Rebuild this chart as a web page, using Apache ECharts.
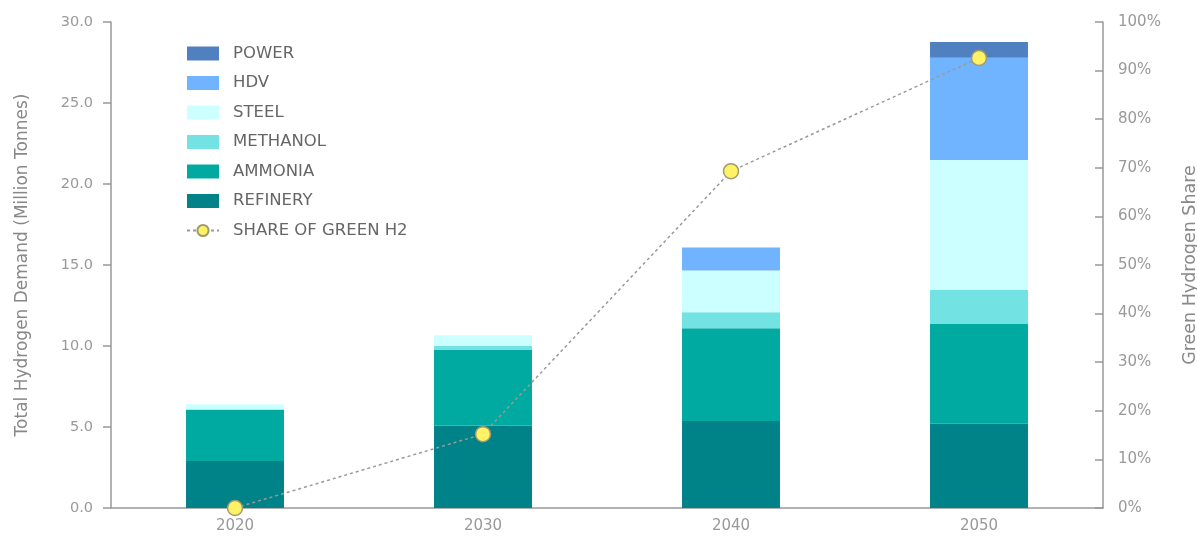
<!DOCTYPE html>
<html>
<head>
<meta charset="utf-8">
<script src="https://cdn.jsdelivr.net/npm/echarts@6/dist/echarts.min.js"></script>
<style>
html,body{margin:0;padding:0;background:#fff;}
#chart{width:1197px;height:537px;}
</style>
</head>
<body>
<div id="chart"></div>
<script>
const years = ['2020', '2030', '2040', '2050'];
const refinery = [2.9, 5.1, 5.37, 5.2];
const ammonia = [3.15, 4.65, 5.72, 6.16];
const methanol = [0.05, 0.25, 1.0, 2.1];
const steel = [0.3, 0.66, 2.57, 8.02];
const hdv = [0, 0, 1.42, 6.32];
const power = [0, 0, 0, 0.97];
const greenShare = [0, 15.2, 69.3, 92.6];
const leftTicks = [0, 5, 10, 15, 20, 25, 30];

const colors = {
  POWER: '#5180c0',
  HDV: '#70b4ff',
  STEEL: '#ccffff',
  METHANOL: '#72e2e2',
  AMMONIA: '#00aaa0',
  REFINERY: '#008289'
};
const font = 'DejaVu Sans';

function barSeries(name, data) {
  return {
    name: name,
    type: 'bar',
    stack: 'total',
    data: data,
    barWidth: '39.5%',
    itemStyle: { color: colors[name] },
    emphasis: { disabled: true }
  };
}

const chart = echarts.init(document.getElementById('chart'));
chart.setOption({
  animation: false,
  textStyle: { fontFamily: font },
  grid: { left: 111, right: 94, top: 22, bottom: 29, containLabel: false, outerBoundsMode: 'none' },
  legend: {
    orient: 'vertical',
    left: 186,
    top: 45,
    padding: 0,
    itemWidth: 32,
    itemHeight: 14,
    itemGap: 12.5,
    textStyle: { fontFamily: font, fontSize: 16.5, color: '#666666', padding: [0, 0, 0, 9] },
    data: [
      { name: 'POWER', icon: 'rect' },
      { name: 'HDV', icon: 'rect' },
      { name: 'STEEL', icon: 'rect' },
      { name: 'METHANOL', icon: 'rect' },
      { name: 'AMMONIA', icon: 'rect' },
      { name: 'REFINERY', icon: 'rect' },
      { name: 'SHARE OF GREEN H2' }
    ]
  },
  xAxis: {
    type: 'category',
    data: years,
    axisLine: { lineStyle: { color: '#999999', width: 1.5 } },
    axisTick: { show: false },
    axisLabel: { color: '#999999', fontSize: 15, margin: 11, fontFamily: font }
  },
  yAxis: [
    {
      type: 'value',
      min: leftTicks[0],
      max: leftTicks[leftTicks.length - 1],
      interval: 5,
      position: 'left',
      name: 'Total Hydrogen Demand (Million Tonnes)',
      nameLocation: 'middle',
      nameRotate: 90,
      nameGap: 80,
      nameTextStyle: { color: '#888888', fontSize: 17, fontFamily: font },
      axisLine: { show: true, lineStyle: { color: '#999999', width: 1.5 } },
      axisTick: { show: true, inside: false, length: 8, lineStyle: { color: '#999999', width: 1.5 } },
      axisLabel: { color: '#999999', fontSize: 14.5, margin: 18, fontFamily: font, formatter: v => v.toFixed(1) },
      splitLine: { show: false }
    },
    {
      type: 'value',
      min: 0,
      max: 100,
      interval: 10,
      position: 'right',
      name: 'Green Hydrogen Share',
      nameLocation: 'middle',
      nameRotate: 90,
      nameGap: 78,
      nameTextStyle: { color: '#888888', fontSize: 17.5, fontFamily: font },
      axisLine: { show: true, lineStyle: { color: '#999999', width: 1.5 } },
      axisTick: { show: true, inside: true, length: 8, lineStyle: { color: '#999999', width: 1.5 } },
      axisLabel: { color: '#999999', fontSize: 15, margin: 15, fontFamily: font, formatter: '{value}%' },
      splitLine: { show: false }
    }
  ],
  series: [
    barSeries('REFINERY', refinery),
    barSeries('AMMONIA', ammonia),
    barSeries('METHANOL', methanol),
    barSeries('STEEL', steel),
    barSeries('HDV', hdv),
    barSeries('POWER', power),
    {
      name: 'SHARE OF GREEN H2',
      type: 'line',
      yAxisIndex: 1,
      data: greenShare,
      symbol: 'circle',
      symbolSize: 15,
      lineStyle: { color: '#999999', width: 1.5, type: [3, 3] },
      itemStyle: { color: '#fff266', borderColor: '#a09a70', borderWidth: 1.5 },
      emphasis: { disabled: true },
      z: 10
    }
  ]
});
</script>
</body>
</html>
